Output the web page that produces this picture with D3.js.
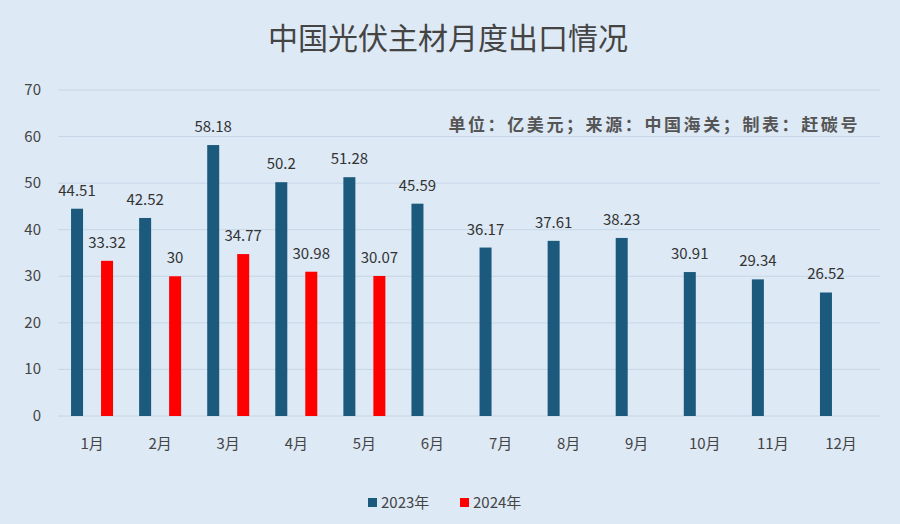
<!DOCTYPE html>
<html><head><meta charset="utf-8">
<script src="https://cdn.jsdelivr.net/npm/d3@7"></script>
<style>body{margin:0;background:#dde9f5;font-family:"Noto Sans CJK SC","Noto Sans",sans-serif;}</style>
</head><body>
<svg id="chart" width="900" height="524"></svg>
<script>
const months = ["1月","2月","3月","4月","5月","6月","7月","8月","9月","10月","11月","12月"];
const y2023 = [44.51,42.52,58.18,50.2,51.28,45.59,36.17,37.61,38.23,30.91,29.34,26.52];
const y2024 = [33.32,30,34.77,30.98,30.07];
const yTicks = [0,10,20,30,40,50,60,70];
const seriesNames = ["2023年","2024年"];
const colors = ["#1b5a7d","#ff0000"];

const svg = d3.select("#chart");
svg.append("rect").attr("width",900).attr("height",524).attr("fill","#dde9f5");

const plotL = 58, plotR = 875, plotT = 90, plotB = 416;
const x = d3.scaleBand().domain(months).range([plotL, plotR]).padding(0);
const y = d3.scaleLinear().domain([0,70]).range([plotB, plotT]);
const barW = 12, off = 15;

// grid
svg.append("g").selectAll("line").data(yTicks).join("line")
  .attr("x1",plotL).attr("x2",880).attr("y1",d=>y(d)).attr("y2",d=>y(d))
  .attr("stroke","#c6d6e6").attr("stroke-width",1);

// y labels
svg.append("g").selectAll("text").data(yTicks).join("text")
  .attr("x",41).attr("y",d=>y(d)+5).attr("text-anchor","end")
  .attr("font-size",15).attr("fill","#444").text(d=>d);

// x labels
svg.append("g").selectAll("text").data(months).join("text")
  .attr("x",d=>x(d)+x.bandwidth()/2).attr("y",449).attr("text-anchor","middle")
  .attr("font-size",15).attr("fill","#444").text(d=>d);

function drawSeries(vals, i, dx){
  const g = svg.append("g");
  g.selectAll("rect").data(vals).join("rect")
    .attr("x",(d,k)=>x(months[k])+x.bandwidth()/2+dx-barW/2)
    .attr("y",d=>y(d)).attr("width",barW).attr("height",d=>plotB-y(d))
    .attr("fill",colors[i]);
  g.selectAll("text").data(vals).join("text")
    .attr("x",(d,k)=>x(months[k])+x.bandwidth()/2+dx)
    .attr("y",d=>y(d)-13).attr("text-anchor","middle")
    .attr("font-size",15).attr("fill","#333").text(d=>d);
}
drawSeries(y2023,0,-off);
drawSeries(y2024,1,off);

// title
svg.append("text").attr("x",448).attr("y",49).attr("text-anchor","middle")
  .attr("font-size",30).attr("fill","#444").text("中国光伏主材月度出口情况");

svg.append("text").attr("x",860).attr("y",131).attr("text-anchor","end")
  .attr("font-size",17).attr("letter-spacing",2.6).attr("font-weight","bold").attr("fill","#555")
  .text("单位：亿美元；来源：中国海关；制表：赶碳号");

// legend
const lg = svg.append("g");
const lx = [368, 460];
seriesNames.forEach((n,i)=>{
  lg.append("rect").attr("x",lx[i]).attr("y",498).attr("width",9).attr("height",9).attr("fill",colors[i]);
  lg.append("text").attr("x",lx[i]+13).attr("y",508).attr("font-size",15).attr("fill","#444").text(n);
});
</script>
</body></html>
